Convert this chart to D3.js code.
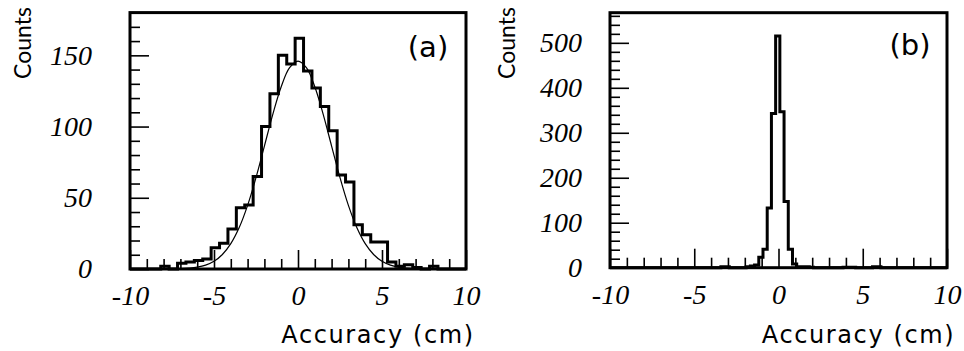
<!DOCTYPE html>
<html><head><meta charset="utf-8">
<script src="https://cdn.jsdelivr.net/npm/d3@7"></script>
<style>body{margin:0;background:#fff}svg{display:block}</style>
</head><body>
<svg id="c" width="964" height="351"></svg>
<script>
// ---- data: panel (a) ----
const binLowA = [-8.17,-7.67,-7.17,-6.67,-6.17,-5.67,-5.17,-4.67,-4.17,-3.67,-3.17,-2.67,-2.17,-1.67,-1.17,-0.67,-0.17,0.33,0.83,1.33,1.83,2.33,2.83,3.33,3.83,4.33,4.83,5.33,5.83,6.33,6.83,7.33,7.83];
const countsA = [2,0,4,5,6,7,15,18,28,43,45,65,100,123,150,144,162,139,127,114,97,66,61,31,24,19,19,5,2,3,1,0,2];
const binWidthA = 0.5;
const fitXA = [-7.5,-7,-6.5,-6,-5.5,-5,-4.5,-4,-3.5,-3,-2.5,-2,-1.5,-1,-0.5,0,0.5,1,1.5,2,2.5,3,3.5,4,4.5,5,5.5,6,6.5,7,7.5];
const fitYA = [0.1,0.2,0.6,1.3,2.7,5.4,10.2,17.8,29.1,44.7,64.2,86.3,108.6,128,141.3,146,141.3,128,108.6,86.3,64.2,44.7,29.1,17.8,10.2,5.4,2.7,1.3,0.6,0.2,0.1];
// ---- data: panel (b) ----
const binLowB = [-3.42,-3.17,-1.92,-1.67,-1.42,-1.17,-0.92,-0.67,-0.42,-0.17,0.08,0.33,0.58,0.83,1.08,1.33,1.58,1.83,3.83,4.08,4.33,5.58,5.83];
const countsB = [2,2,2,4,6,23,41,133,343,515,347,147,41,8,2,2,2,1,1,1,1,2,2];
const binWidthB = 0.25;
// ---- axes ----
const xTickValues = [-10,-5,0,5,10];
const xTickLabels = ["-10","-5","0","5","10"];
const yTickValuesA = [0,50,100,150];
const yTickValuesB = [0,100,200,300,400,500];
const panelLabels = ["(a)","(b)"];
const xTitle = "Accuracy (cm)";
const yTitle = "Counts";

const svg = d3.select("#c");
const SANS = "'DejaVu Sans', sans-serif";
const SANS2 = "Lato, 'DejaVu Sans', sans-serif";
const SERIF = "'Liberation Serif', 'Times New Roman', serif";

function stepPoints(lows, counts, w, xmin, xmax) {
  const pts = [[xmin, 0]];
  let prev = xmin;
  lows.forEach((lo, i) => {
    if (Math.abs(lo - prev) > 1e-6) { pts.push([prev, 0], [lo, 0]); }
    pts.push([lo, counts[i]], [lo + w, counts[i]]);
    prev = lo + w;
  });
  pts.push([prev, 0], [xmax, 0]);
  return pts;
}

function panel(cfg) {
  const x = d3.scaleLinear().domain([-10, 10]).range([cfg.x0, cfg.x1]);
  const y = d3.scaleLinear().domain([0, cfg.ymax]).range([cfg.yb, cfg.yt]);
  const g = svg.append("g");

  g.append("g").attr("transform", `translate(0,${cfg.yb})`)
    .call(d3.axisBottom(x).tickValues(d3.range(-9, 10, 1).filter(v => v % 5 !== 0)).tickFormat("").tickSizeInner(-10).tickSizeOuter(0))
    .call(a => a.select(".domain").remove())
    .call(a => a.selectAll("line").attr("stroke-width", 1.6));
  g.append("g").attr("transform", `translate(0,${cfg.yb})`)
    .call(d3.axisBottom(x).tickValues(xTickValues).tickFormat((d, i) => xTickLabels[i]).tickSizeInner(-19).tickSizeOuter(0).tickPadding(16))
    .call(a => a.select(".domain").remove())
    .call(a => a.selectAll("line").attr("stroke-width", 1.6))
    .call(a => a.selectAll("text").attr("font-family", SERIF).attr("font-style", "italic").attr("font-size", 28).attr("fill", "#000"));
  g.append("g").attr("transform", `translate(${cfg.x0},0)`)
    .call(d3.axisLeft(y).tickValues(d3.range(cfg.yMinor, cfg.ymax, cfg.yMinor).filter(v => !cfg.yTicks.includes(v))).tickFormat("").tickSizeInner(-10).tickSizeOuter(0))
    .call(a => a.select(".domain").remove())
    .call(a => a.selectAll("line").attr("stroke-width", 1.6));
  g.append("g").attr("transform", `translate(${cfg.x0},0)`)
    .call(d3.axisLeft(y).tickValues(cfg.yTicks).tickSizeInner(-19).tickSizeOuter(0).tickPadding(cfg.yPad))
    .call(a => a.select(".domain").remove())
    .call(a => a.selectAll("line").attr("stroke-width", 1.6))
    .call(a => a.selectAll("text").attr("font-family", SERIF).attr("font-style", "italic").attr("font-size", 28).attr("fill", "#000"));

  const line = d3.line().x(d => x(d[0])).y(d => y(d[1]));
  g.append("path").datum(stepPoints(cfg.lows, cfg.counts, cfg.w, -10, 10))
    .attr("d", line).attr("fill", "none").attr("stroke", "#000").attr("stroke-width", 3).attr("stroke-linejoin", "miter");

  if (cfg.fitX) {
    const fl = d3.line().x(d => x(d[0])).y(d => y(d[1])).curve(d3.curveCatmullRom);
    g.append("path").datum(cfg.fitX.map((v, i) => [v, cfg.fitY[i]]))
      .attr("d", fl).attr("fill", "none").attr("stroke", "#000").attr("stroke-width", 1.2);
  }

  g.append("rect").attr("x", cfg.x0).attr("y", cfg.yt).attr("width", cfg.x1 - cfg.x0).attr("height", cfg.yb - cfg.yt)
    .attr("fill", "none").attr("stroke", "#000").attr("stroke-width", 3);

  g.append("text").attr("x", cfg.labelX).attr("y", cfg.labelY).attr("text-anchor", "middle")
    .attr("font-family", SANS).attr("font-size", 29).text(cfg.label);

  g.append("text").attr("x", (cfg.x0 + cfg.x1) / 2 + 80).attr("y", 343).attr("text-anchor", "middle")
    .attr("font-family", SANS).attr("font-size", 24).attr("letter-spacing", 1.6).text(xTitle);
  g.append("text").attr("transform", `translate(${cfg.yTitleX},${cfg.yTitleY}) rotate(-90)`).attr("text-anchor", "middle")
    .attr("font-family", SANS2).attr("font-size", 23).text(yTitle);
}

panel({x0: 130, x1: 466, yb: 269, yt: 12.6, ymax: 180, yMinor: 10, yTicks: yTickValuesA, yPad: 38,
  lows: binLowA, counts: countsA, w: binWidthA, fitX: fitXA, fitY: fitYA,
  label: panelLabels[0], labelX: 428, labelY: 57, yTitleX: 31, yTitleY: 43});
panel({x0: 610, x1: 947, yb: 267.7, yt: 12.7, ymax: 567, yMinor: 20, yTicks: yTickValuesB, yPad: 28,
  lows: binLowB, counts: countsB, w: binWidthB,
  label: panelLabels[1], labelX: 910, labelY: 55, yTitleX: 515, yTitleY: 43});
</script>
</body></html>
